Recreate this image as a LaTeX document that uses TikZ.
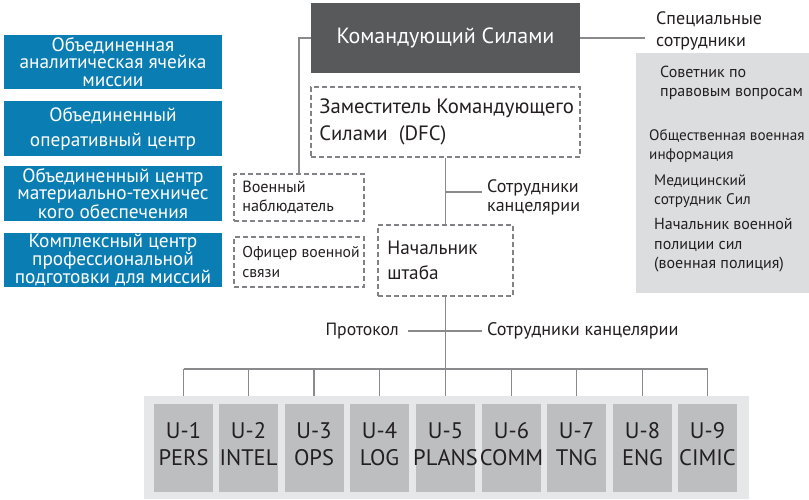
\documentclass[tikz,border=0pt]{standalone}
\usepackage{fontspec}
\setmainfont{PT Sans}
\definecolor{bluebox}{HTML}{0A7DB2}
\definecolor{darkbox}{HTML}{58595B}
\definecolor{dashgray}{HTML}{808285}
\definecolor{linegray}{HTML}{8A8A8C}
\definecolor{panelgray}{HTML}{DCDDDE}
\definecolor{lightpanel}{HTML}{E6E7E8}
\definecolor{unitgray}{HTML}{BCBEC0}
\definecolor{txt}{HTML}{231F20}
\begin{document}
\begin{tikzpicture}[x=1pt,y=-1pt,
  bluebx/.style={fill=bluebox, text=white, minimum width=218pt, inner sep=0pt, align=center,
     font=\fontsize{19.3}{17.7}\selectfont},
  dashbox/.style={draw=dashgray, line width=1.8pt, dash pattern=on 5pt off 3pt, inner sep=0pt},
  conn/.style={draw=linegray, line width=1.3pt},
  lbl/.style={text=txt, inner sep=0pt, align=left, anchor=west},
  unitbox/.style={fill=unitgray, minimum width=59pt, minimum height=88pt, inner sep=0pt},
  unittxt/.style={text=txt, inner sep=0pt, align=center, font=\fontsize{22.5}{27}\selectfont}
]
\useasboundingbox (0,0) rectangle (809,500);
% left blue boxes
\node[bluebx, minimum height=54pt] (b1) at (113,62) {Объединенная\\аналитическая ячейка\\миссии};
\node[bluebx, minimum height=55pt, font=\fontsize{19.3}{25}\selectfont] (b2) at (113,128.5) {Объединенный\\оперативный центр};
\node[bluebx, minimum height=55pt] (b3) at (113,193.5) {Объединенный центр\\материально-техничес\\кого обеспечения};
\node[bluebx, minimum height=54pt] (b4) at (113,260) {Комплексный центр\\профессиональной\\подготовки для миссий};
% commander
\node[fill=darkbox, minimum width=269pt, minimum height=70pt, inner sep=0pt, text=white,
  font=\fontsize{22}{24}\selectfont] (cmd) at (445.5,38) {Командующий Силами};
% DFC
\node[dashbox, minimum width=269pt, minimum height=70pt] (dfc) at (445.5,122) {};
\node[lbl, font=\fontsize{20.7}{27}\selectfont] (dfct) at ([xshift=9pt]dfc.west) {Заместитель Командующего\\Силами\ \ (DFC)};
% observer / liaison
\node[dashbox, minimum width=130pt, minimum height=47pt] (obs) at (299,197.5) {};
\node[lbl, font=\fontsize{16.2}{19}\selectfont] (obst) at ([xshift=9pt]obs.west) {Военный\\наблюдатель};
\node[dashbox, minimum width=130pt, minimum height=50pt] (lia) at (299,262) {};
\node[lbl, font=\fontsize{15.7}{20}\selectfont] (liat) at ([xshift=9pt]lia.west) {Офицер военной\\связи};
% chief of staff
\node[dashbox, minimum width=135pt, minimum height=71pt] (cos) at (445.5,260.5) {};
\node[lbl, font=\fontsize{19.3}{24.5}\selectfont] (cost) at ([xshift=10pt]cos.west) {Начальник\\штаба};
% right panel
\node[fill=panelgray, minimum width=173pt, minimum height=240pt, inner sep=0pt] (rp) at (722.5,173) {};
\node[lbl, font=\fontsize{18}{22}\selectfont] (spec) at (656,31) {Специальные\\сотрудники};
\node[lbl, font=\fontsize{16}{19}\selectfont] (r1) at (660,82.5) {Советник по\\правовым вопросам};
\node[lbl, font=\fontsize{15.2}{19}\selectfont] (r2) at (649,146.5) {Общественная военная\\информация};
\node[lbl, font=\fontsize{15.3}{18.5}\selectfont] (r3) at (654,191) {Медицинский\\сотрудник Сил};
\node[lbl, font=\fontsize{16}{19.5}\selectfont] (r4) at (654,245.5) {Начальник военной\\полиции сил\\(военная полиция)};
% clerks labels
\node[lbl, font=\fontsize{18}{19}\selectfont] (clk1) at (487,197.5) {Сотрудники\\канцелярии};
\node[text=txt, inner sep=0pt, anchor=east, font=\fontsize{17.7}{19}\selectfont] (prot) at (399,331) {Протокол};
\node[lbl, font=\fontsize{18.2}{19}\selectfont] (clk2) at (487,331) {Сотрудники канцелярии};
% bottom panel and units
\node[fill=lightpanel, minimum width=605pt, minimum height=103pt, inner sep=0pt] (bp) at (446.5,447.5) {};
\foreach \i/\x/\a/\b in {1/183.5/U-1/PERS, 2/248.5/U-2/INTEL, 3/314/U-3/OPS, 4/379.5/U-4/LOG,
  5/445.5/U-5/PLANS, 6/511.5/U-6/COMM, 7/576.5/U-7/TNG, 8/642.5/U-8/ENG, 9/707.5/U-9/CIMIC}{
  \node[unitbox] (u\i) at (\x,448) {};
  \node[unittxt] (ut\i) at (\x,444.5) {\a\\\b};
}
% connectors
\coordinate (cspec) at (645,38);
\draw[conn] (cmd.west) -| (obs.north);
\draw[conn] (cmd.east) -- (cspec);
\draw[conn] (dfc.south) -- (cos.north);
\coordinate (dfcbr) at (445.5,192);
\coordinate (dfcbre) at (482,192);
\draw[conn] (dfcbr) -- (dfcbre);
\coordinate (busc) at (445.5,369);
\draw[conn] (cos.south) -- (busc);
\coordinate (pl) at (408,331);
\coordinate (pr) at (482,331);
\draw[conn] (pl) -- (pr);
\draw[conn] (u1.north |- busc) -- (u9.north |- busc);
\foreach \i in {1,...,9}{
  \draw[conn] (u\i.north |- busc) -- (u\i.north |- bp.north);
}
\end{tikzpicture}
\end{document}
